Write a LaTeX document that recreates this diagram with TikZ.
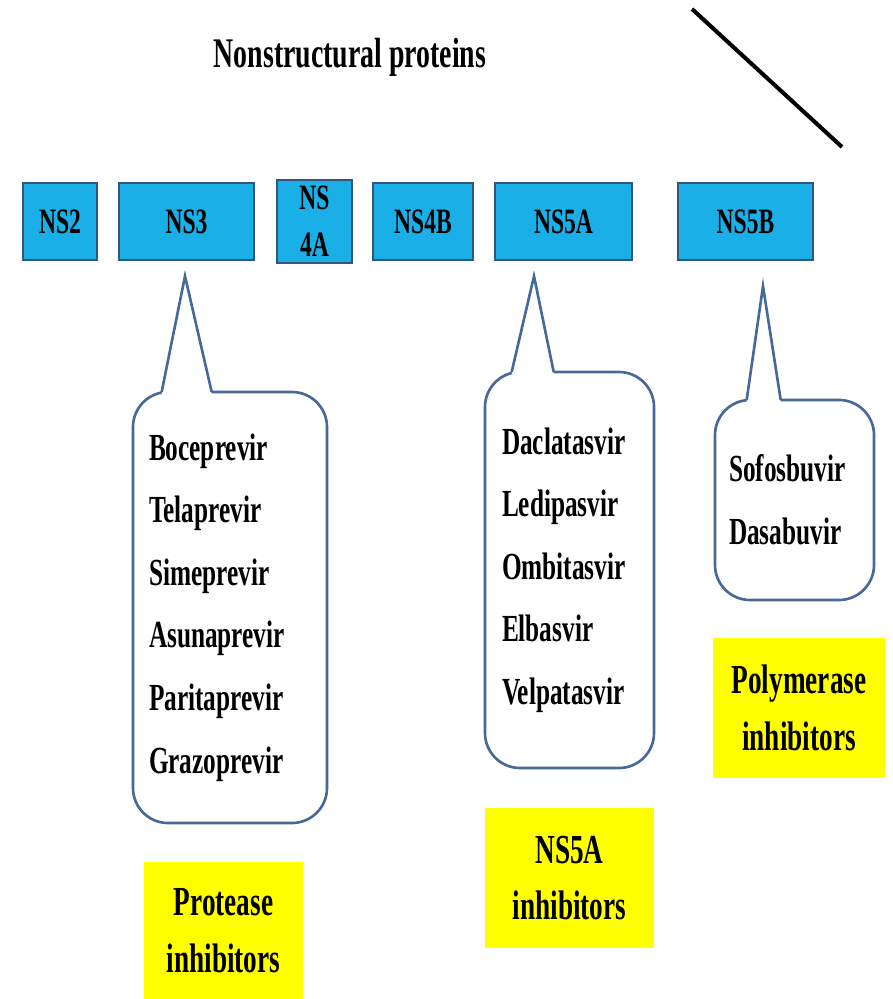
\documentclass[tikz,border=0pt]{standalone}
\usepackage{fontspec}
\setmainfont{Liberation Serif}[FakeStretch=0.66]
\usetikzlibrary{calc}
\definecolor{nsfill}{HTML}{1AAFE6}
\definecolor{nsedge}{HTML}{34557F}
\definecolor{calloutedge}{HTML}{46699A}
\definecolor{classfill}{HTML}{FFFF00}

\begin{document}
\begin{tikzpicture}[
		protein/.style={draw=nsedge, line width=1.3pt, fill=nsfill, minimum height=1.54cm, inner sep=0pt, align=center, font=\fontsize{20.3}{26.6}\selectfont\bfseries},
		drugs/.style={draw=calloutedge, line width=1.5pt, fill=white, rounded corners=0.7cm, align=left, font=\fontsize{21.8}{35.6}\selectfont\bfseries},
		tail/.style={draw=calloutedge, line width=1.5pt},
		drugclass/.style={fill=classfill, align=center, inner sep=0pt, font=\fontsize{23.5}{32.3}\selectfont\bfseries}
	]
	\useasboundingbox (0,0) rectangle (17.84,-19.98);
	% Title and stroke
	\node[anchor=base, font=\fontsize{24}{28}\selectfont\bfseries] (title) at (7.00,-1.36) {Nonstructural proteins};
	\coordinate (strokea) at (13.84,-0.18);
	\coordinate (strokeb) at (16.84,-2.94);
	\draw[line width=2.3pt] (strokea) -- (strokeb);
	% Protein row
	\foreach \n/\x/\w/\txt in {ns2/1.20/1.48/NS2, ns3/3.73/2.70/NS3, ns4b/8.46/2.00/NS4B, ns5a/11.27/2.74/NS5A, ns5b/14.91/2.70/NS5B} {
			\node[protein, minimum width=\w cm] (\n) at (\x,-4.43) {\txt};
		}
	\node[protein, minimum width=1.50cm, minimum height=1.66cm] (ns4a) at (6.29,-4.43) {NS\\4A};
	% Drug callouts
	\node[drugs, text width=3.24cm, inner xsep=0.32cm, minimum height=8.62cm] (pi) at (4.60,-12.15)
		{Boceprevir\\Telaprevir\\Simeprevir\\Asunaprevir\\Paritaprevir\\Grazoprevir};
	\node[drugs, text width=2.70cm, inner xsep=0.34cm, minimum height=7.92cm] (ni) at (11.39,-11.40)
		{Daclatasvir\\Ledipasvir\\Ombitasvir\\Elbasvir\\Velpatasvir};
	\node[drugs, text width=2.62cm, inner xsep=0.28cm, minimum height=4.00cm] (po) at (15.89,-10.00)
		{Sofosbuvir\\Dasabuvir};
	% Callout tails
	\foreach \cn/\p/\tx/\ty/\lx/\rx in {pi/ns3/-0.03/-0.30/0.60/1.60, ni/ns5a/-0.59/-0.30/0.56/1.40, po/ns5b/0.35/-0.50/0.66/1.34} {
			\coordinate (tip\cn) at ($(\p.south)+(\tx,\ty)$);
			\fill[white] ($(\cn.north west)+(\lx,-0.065)$) -- (tip\cn) -- ($(\cn.north west)+(\rx,-0.065)$) -- cycle;
			\draw[tail] ($(\cn.north west)+(\lx,-0.025)$) -- (tip\cn) -- ($(\cn.north west)+(\rx,-0.025)$);
		}
	% Drug classes
	\node[drugclass, minimum width=3.18cm, minimum height=2.74cm] (picls) at (4.47,-18.61) {Protease\\inhibitors};
	\node[drugclass, minimum width=3.38cm, minimum height=2.80cm] (nicls) at (11.39,-17.56) {NS5A\\inhibitors};
	\node[drugclass, minimum width=3.44cm, minimum height=2.80cm] (pocls) at (15.98,-14.16) {Polymerase\\inhibitors};
\end{tikzpicture}
\end{document}
